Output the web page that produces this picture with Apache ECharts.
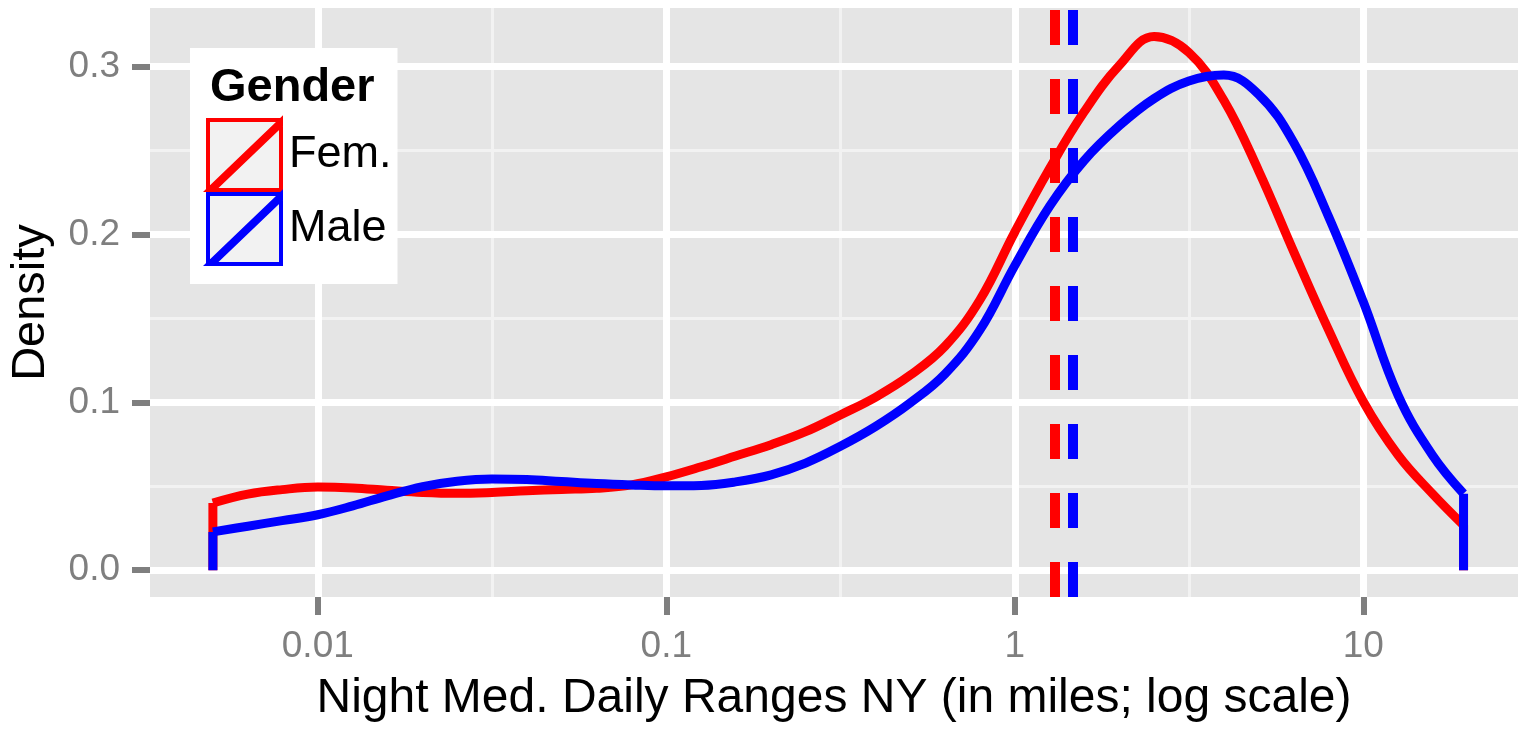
<!DOCTYPE html>
<html>
<head>
<meta charset="utf-8">
<script src="https://cdn.jsdelivr.net/npm/echarts@6/dist/echarts.min.js"></script>
<style>
html, body { margin: 0; padding: 0; background: #ffffff; }
#chart { width: 1518px; height: 735px; }
</style>
</head>
<body>
<div id="chart"></div>
<script>
// ---- data ----
// x positions of the density estimate, in miles (log axis)
const distance = [0.005, 0.0063, 0.0079, 0.01, 0.0126, 0.0158, 0.02, 0.0251, 0.0316, 0.0398,
  0.05, 0.0631, 0.0794, 0.1, 0.126, 0.158, 0.2, 0.251, 0.316, 0.398,
  0.5, 0.631, 0.794, 1, 1.26, 1.58, 2, 2.51, 3.16, 3.98,
  5.01, 6.31, 7.94, 10, 12.6, 15.8, 19.4];
const femDensity = [0.0400, 0.0453, 0.0480, 0.0495, 0.0490, 0.0476, 0.0463, 0.0458, 0.0463, 0.0473,
  0.0481, 0.0488, 0.0508, 0.0556, 0.0616, 0.0680, 0.0748, 0.0825, 0.0925, 0.1030,
  0.1160, 0.1335, 0.1610, 0.2015, 0.2395, 0.2730, 0.3010, 0.3180, 0.3085, 0.2800,
  0.2380, 0.1900, 0.1435, 0.1005, 0.0685, 0.0455, 0.0267];
const maleDensity = [0.0228, 0.0262, 0.0295, 0.0330, 0.0383, 0.0443, 0.0498, 0.0530, 0.0543, 0.0540,
  0.0528, 0.0516, 0.0508, 0.0503, 0.0505, 0.0526, 0.0568, 0.0638, 0.0738, 0.0855,
  0.0995, 0.1170, 0.1430, 0.1815, 0.2170, 0.2440, 0.2650, 0.2810, 0.2915, 0.2950,
  0.2835, 0.2550, 0.2110, 0.1600, 0.1040, 0.0685, 0.0456];
const femMedian = 1.30;
const maleMedian = 1.47;

const seriesNames = ['Fem.', 'Male'];
const legendTitle = 'Gender';
const xTitle = 'Night Med. Daily Ranges NY (in miles; log scale)';
const yTitle = 'Density';

const xTickValues = [0.01, 0.1, 1, 10];
const xTickLabels = ['0.01', '0.1', '1', '10'];
const xMinorValues = [0.0316, 0.316, 3.16];
const yTickValues = [0, 0.1, 0.2, 0.3];
const yTickLabels = ['0.0', '0.1', '0.2', '0.3'];
const yMinorValues = [0.05, 0.15, 0.25];

const X_MIN = 0.0033, X_MAX = 27.8;
const Y_MIN = -0.016, Y_MAX = 0.335;

// ---- styling ----
const RED = '#ff0000';
const BLUE = '#0000ff';
const FONT = '"Liberation Sans", Arial, Helvetica, sans-serif';
const TICK_GREY = '#7f7f7f';
const KEY_ICON = 'path://M0,0L73,0L73,70L0,70Z M0,70L73,0L73,5.5L5.5,70Z';

function pairs(xs, ys) { return xs.map((x, i) => [x, ys[i]]); }
function edges(xs, ys) {
  const n = xs.length - 1;
  return [[xs[0], 0], [xs[0], ys[0]], [xs[n], '-'], [xs[n], ys[n]], [xs[n], 0]];
}
function labelFor(values, labels) {
  return function (v) {
    let best = 0;
    for (let i = 1; i < values.length; i++) {
      if (Math.abs(values[i] - v) < Math.abs(values[best] - v)) best = i;
    }
    return labels[best];
  };
}

const chart = echarts.init(document.getElementById('chart'), null, { renderer: 'canvas' });

const curveStyle = (color) => ({ color: color, width: 9, cap: 'butt', join: 'round' });

const option = {
  animation: false,
  backgroundColor: '#ffffff',
  textStyle: { fontFamily: FONT },
  grid: {
    left: 150, right: 0, top: 8, bottom: 138,
    show: true, backgroundColor: '#e5e5e5', borderWidth: 0
  },
  title: {
    text: legendTitle,
    left: 210, top: 65, padding: 0,
    textStyle: { fontSize: 47, fontWeight: 'bold', color: '#000000', fontFamily: FONT }
  },
  legend: {
    orient: 'vertical',
    left: 190, top: 48,
    padding: [70, 6, 18, 16],
    backgroundColor: '#ffffff',
    itemGap: 0, itemWidth: 73, itemHeight: 70,
    selectedMode: false,
    textStyle: { fontSize: 45, color: '#000000', fontFamily: FONT, padding: [14, 0, 0, 3] },
    data: [
      { name: seriesNames[0], icon: KEY_ICON, itemStyle: { color: '#f2f2f2', borderColor: RED, borderWidth: 4 } },
      { name: seriesNames[1], icon: KEY_ICON, itemStyle: { color: '#f2f2f2', borderColor: BLUE, borderWidth: 4 } }
    ]
  },
  xAxis: [
    {
      type: 'log', logBase: 10, min: X_MIN, max: X_MAX, position: 'bottom', z: 1,
      name: xTitle, nameLocation: 'middle', nameGap: 78,
      nameTextStyle: { fontSize: 48, color: '#000000', fontFamily: FONT },
      axisLine: { show: false, onZero: false },
      axisTick: { show: true, customValues: xTickValues, length: 18, lineStyle: { color: TICK_GREY, width: 6 } },
      axisLabel: { show: true, customValues: xTickValues, margin: 31, fontSize: 37, color: TICK_GREY, fontFamily: FONT,
        formatter: labelFor(xTickValues, xTickLabels) },
      splitLine: { show: true, lineStyle: { color: '#ffffff', width: 7 } },
      minorTick: { show: false }, minorSplitLine: { show: false }
    },
    {
      type: 'log', logBase: 10, min: X_MIN, max: X_MAX, position: 'top', z: 0,
      axisLine: { show: false, onZero: false },
      axisTick: { show: false, customValues: xMinorValues },
      axisLabel: { show: false, customValues: xMinorValues },
      splitLine: { show: true, lineStyle: { color: '#f2f2f2', width: 3 } }
    }
  ],
  yAxis: [
    {
      type: 'value', min: Y_MIN, max: Y_MAX, position: 'left', z: 1,
      name: yTitle, nameLocation: 'middle', nameGap: 95,
      nameTextStyle: { fontSize: 47, color: '#000000', fontFamily: FONT },
      axisLine: { show: false, onZero: false },
      axisTick: { show: true, customValues: yTickValues, length: 18, lineStyle: { color: TICK_GREY, width: 6 } },
      axisLabel: { show: true, customValues: yTickValues, margin: 30, fontSize: 37, color: TICK_GREY, fontFamily: FONT,
        formatter: labelFor(yTickValues, yTickLabels) },
      splitLine: { show: true, lineStyle: { color: '#ffffff', width: 7 } }
    },
    {
      type: 'value', min: Y_MIN, max: Y_MAX, position: 'right', z: 0,
      axisLine: { show: false, onZero: false },
      axisTick: { show: false, customValues: yMinorValues },
      axisLabel: { show: false, customValues: yMinorValues },
      splitLine: { show: true, lineStyle: { color: '#f2f2f2', width: 3 } }
    }
  ],
  series: [
    {
      name: seriesNames[0], type: 'line', xAxisIndex: 0, yAxisIndex: 0,
      data: pairs(distance, femDensity),
      showSymbol: false, symbol: 'none', smooth: 0.4,
      lineStyle: curveStyle(RED), itemStyle: { color: RED },
      emphasis: { disabled: true }, z: 2,
      markLine: {
        silent: true, symbol: ['none', 'none'], label: { show: false },
        lineStyle: { color: RED, width: 10, type: [35, 34], cap: 'butt' },
        emphasis: { disabled: true },
        data: [{ xAxis: femMedian }]
      }
    },
    {
      name: seriesNames[0] + ' edges', type: 'line', xAxisIndex: 0, yAxisIndex: 0,
      data: edges(distance, femDensity), connectNulls: false,
      showSymbol: false, symbol: 'none',
      lineStyle: curveStyle(RED), itemStyle: { color: RED },
      emphasis: { disabled: true }, z: 2
    },
    {
      name: seriesNames[1], type: 'line', xAxisIndex: 0, yAxisIndex: 0,
      data: pairs(distance, maleDensity),
      showSymbol: false, symbol: 'none', smooth: 0.4,
      lineStyle: curveStyle(BLUE), itemStyle: { color: BLUE },
      emphasis: { disabled: true }, z: 3,
      markLine: {
        silent: true, symbol: ['none', 'none'], label: { show: false },
        lineStyle: { color: BLUE, width: 10, type: [35, 34], cap: 'butt' },
        emphasis: { disabled: true },
        data: [{ xAxis: maleMedian }]
      }
    },
    {
      name: seriesNames[1] + ' edges', type: 'line', xAxisIndex: 0, yAxisIndex: 0,
      data: edges(distance, maleDensity), connectNulls: false,
      showSymbol: false, symbol: 'none',
      lineStyle: curveStyle(BLUE), itemStyle: { color: BLUE },
      emphasis: { disabled: true }, z: 3
    }
  ]
};

chart.setOption(option);
</script>
</body>
</html>
